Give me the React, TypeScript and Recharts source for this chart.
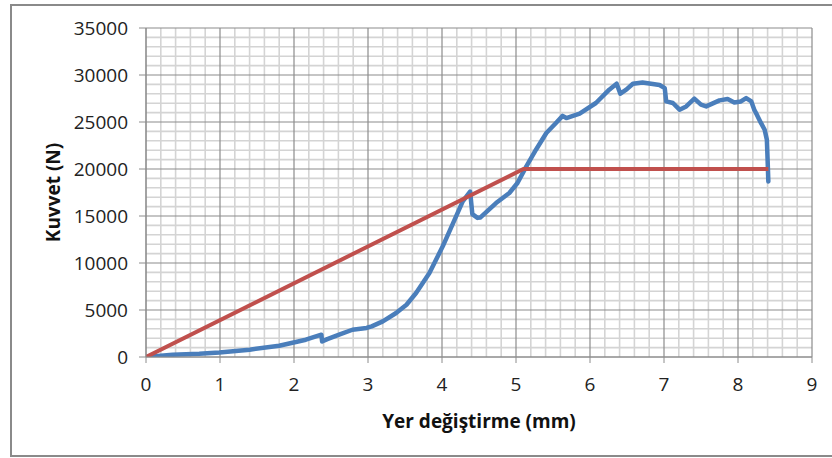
import React from 'react';
import { LineChart, Line, XAxis, YAxis, ReferenceLine, Label } from 'recharts';

// Measured curve (Yer değiştirme mm, Kuvvet N)
const displacementMm = [
  0, 0.36, 0.72, 0.99, 1.4, 1.8, 2.16, 2.37, 2.38, 2.45, 2.61, 2.79, 2.98, 3.05, 3.2, 3.38, 3.52, 3.65,
  3.83, 4.01, 4.15, 4.28, 4.38, 4.41, 4.48, 4.52, 4.73, 4.91, 5.02, 5.14, 5.27, 5.41, 5.54, 5.63,
  5.68, 5.86, 6.08, 6.26, 6.36, 6.41, 6.49, 6.58, 6.71, 6.94, 7.01, 7.03, 7.12, 7.21, 7.3, 7.41,
  7.5, 7.57, 7.75, 7.86, 7.95, 8.04, 8.11, 8.18, 8.22, 8.26, 8.31, 8.36, 8.39, 8.4, 8.41,
];
const forceN = [
  0, 245, 350, 490, 780, 1200, 1840, 2370, 1660, 1900, 2370, 2900, 3090, 3260, 3790, 4680, 5560, 6810,
  8940, 11770, 14250, 16550, 17600, 15200, 14800, 14850, 16380, 17450, 18510, 20280, 22050, 23830, 24890, 25650,
  25420, 25900, 27020, 28440, 29070, 28010, 28440, 29070, 29210, 28940, 28600, 27190, 27020, 26310, 26660, 27480,
  26840, 26660, 27300, 27450, 27080, 27190, 27550, 27190, 26300, 25700, 24900, 24180, 23120, 20990, 18680,
];

// Idealized bilinear line
const idealX = [0, 5.1, 8.41];
const idealY = [0, 20000, 20000];

const xTicks = [0, 1, 2, 3, 4, 5, 6, 7, 8, 9];
const yTicks = [0, 5000, 10000, 15000, 20000, 25000, 30000, 35000];

const measured = displacementMm.map((x, i) => ({ x, y: forceN[i] }));
const ideal = idealX.map((x, i) => ({ x, y: idealY[i] }));

const xMinor: number[] = [];
for (let i = 0; i <= 45; i++) if (i % 5 !== 0) xMinor.push(i * 0.2);
const yMinor: number[] = [];
for (let i = 0; i <= 35; i++) if (i % 5 !== 0) yMinor.push(i * 1000);

const FONT = '"Open Sans", sans-serif';
const MINOR = '#d4d4d4';
const MAJOR = '#8c8c8c';

export default function App() {
  return (
    <div style={{ position: 'absolute', left: 0, top: 0, width: 832, height: 458, background: '#fff' }}>
      <div
        style={{
          position: 'absolute',
          left: 10,
          top: 4,
          width: 822,
          height: 453,
          border: '2px solid #8a8a8a',
          borderRight: 'none',
          boxSizing: 'border-box',
        }}
      />
      <div style={{ position: 'absolute', left: 0, top: 0 }}>
        <LineChart width={832} height={458} margin={{ top: 28, right: 20, bottom: 0, left: 0 }}>
          <XAxis
            type="number"
            dataKey="x"
            domain={[0, 9]}
            ticks={xTicks}
            allowDataOverflow
            height={101}
            tickSize={6}
            tickMargin={15}
            stroke={MAJOR}
            tick={{ fill: '#222', fontSize: 19, fontFamily: FONT }}
          >
            <Label
              value="Yer değiştirme (mm)"
              position="center"
              dy={14}
              style={{ fontFamily: FONT, fontWeight: 700, fontSize: 19, fill: '#111' }}
            />
          </XAxis>
          <YAxis
            type="number"
            domain={[0, 35000]}
            ticks={yTicks}
            allowDataOverflow
            width={146}
            tickSize={7}
            tickMargin={11}
            stroke={MAJOR}
            tick={{ fill: '#222', fontSize: 19, fontFamily: FONT }}
          >
            <Label
              value="Kuvvet (N)"
              position="center"
              angle={-90}
              dx={-20}
              style={{ fontFamily: FONT, fontWeight: 700, fontSize: 19, fill: '#111', textAnchor: 'middle' }}
            />
          </YAxis>
          {xMinor.map((v) => (
            <ReferenceLine key={'xm' + v} x={v} stroke={MINOR} strokeWidth={1.6} />
          ))}
          {yMinor.map((v) => (
            <ReferenceLine key={'ym' + v} y={v} stroke={MINOR} strokeWidth={1.6} />
          ))}
          {xTicks.map((v) => (
            <ReferenceLine key={'xM' + v} x={v} stroke={MAJOR} strokeWidth={1.2} />
          ))}
          {yTicks.map((v) => (
            <ReferenceLine key={'yM' + v} y={v} stroke={MAJOR} strokeWidth={1.2} />
          ))}
          <Line
            data={measured}
            dataKey="y"
            type="linear"
            stroke="#4a7ebb"
            strokeWidth={4.5}
            dot={false}
            isAnimationActive={false}
            strokeLinejoin="round"
            strokeLinecap="round"
          />
          <Line
            data={ideal}
            dataKey="y"
            type="linear"
            stroke="#c0504d"
            strokeWidth={4}
            dot={false}
            isAnimationActive={false}
          />
        </LineChart>
      </div>
    </div>
  );
}
